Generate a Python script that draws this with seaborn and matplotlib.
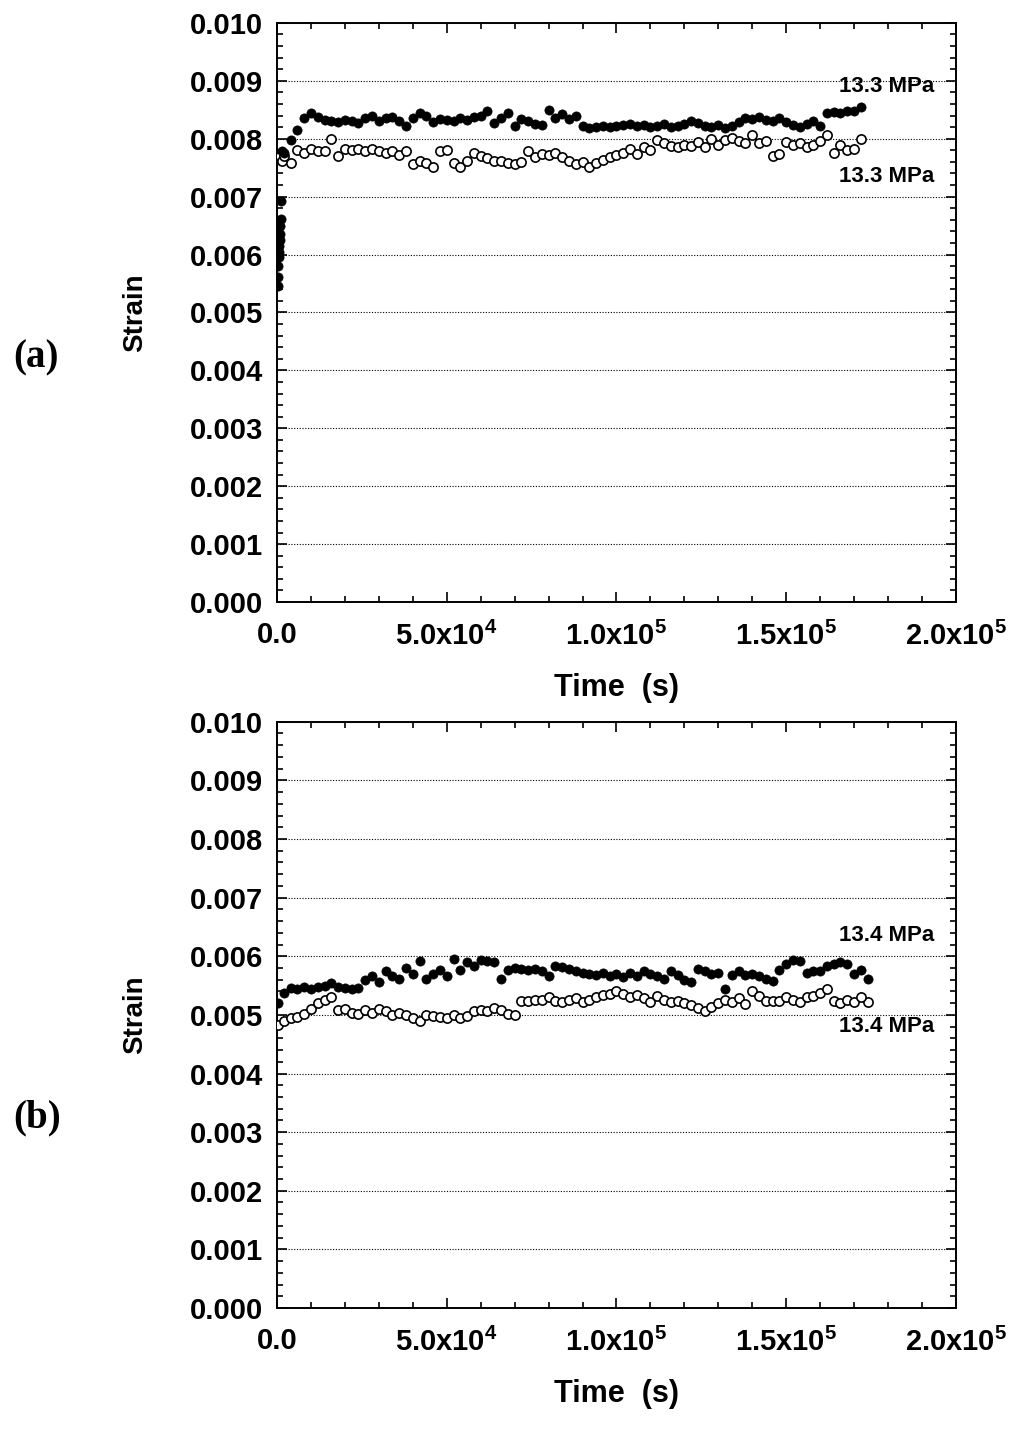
import numpy as np
import pandas as pd
import seaborn as sns
import matplotlib
matplotlib.use("Agg")
import matplotlib.pyplot as plt
from matplotlib.ticker import MultipleLocator, FixedLocator

sns.set_theme(style="ticks")
plt.rcParams['font.family'] = ['Liberation Sans', 'DejaVu Sans']
plt.rcParams['font.weight'] = 'bold'
plt.rcParams['mathtext.fontset'] = 'custom'
plt.rcParams['mathtext.bf'] = 'Liberation Sans:bold'
plt.rcParams['mathtext.rm'] = 'Liberation Sans:bold'
plt.rcParams['mathtext.default'] = 'bf'
plt.rcParams['text.color'] = 'black'
plt.rcParams['axes.labelcolor'] = 'black'
plt.rcParams['xtick.color'] = 'black'
plt.rcParams['ytick.color'] = 'black'

# time grid in ks (kiloseconds)
t_grid = [2, 4, 6, 8, 10, 12, 14, 16, 18, 20, 22, 24, 26, 28, 30, 32, 34, 36, 38, 40,
          42, 44, 46, 48, 50, 52, 54, 56, 58, 60, 62, 64, 66, 68, 70, 72, 74, 76, 78, 80,
          82, 84, 86, 88, 90, 92, 94, 96, 98, 100, 102, 104, 106, 108, 110, 112, 114, 116,
          118, 120, 122, 124, 126, 128, 130, 132, 134, 136, 138, 140, 142, 144, 146, 148,
          150, 152, 154, 156, 158, 160, 162, 164, 166, 168, 170, 172]

# (a) start-up loading points (ks, strain x1e-3)
a_start_t = [0.2, 0.3, 0.4, 0.5, 0.6, 0.7, 0.8, 0.9, 1.0, 1.1, 1.2, 1.4]
a_start_v = [5.45, 5.62, 5.80, 5.95, 6.05, 6.15, 6.25, 6.35, 6.50, 6.62, 6.92, 7.78]
a_start_open_t = [1.0, 1.5]
a_start_open_v = [7.70, 7.62]

a_fill = [7.75, 7.98, 8.15, 8.36, 8.44, 8.38, 8.32, 8.30, 8.28, 8.33, 8.30, 8.27, 8.35, 8.40,
          8.30, 8.36, 8.38, 8.30, 8.22, 8.36, 8.45, 8.40, 8.28, 8.34, 8.32, 8.30, 8.36, 8.33,
          8.38, 8.40, 8.48, 8.27, 8.36, 8.44, 8.22, 8.34, 8.30, 8.26, 8.24, 8.50, 8.36, 8.42,
          8.34, 8.40, 8.22, 8.18, 8.20, 8.22, 8.20, 8.22, 8.23, 8.26, 8.22, 8.24, 8.20, 8.22,
          8.25, 8.20, 8.22, 8.26, 8.30, 8.27, 8.22, 8.20, 8.24, 8.18, 8.22, 8.28, 8.36, 8.34,
          8.38, 8.33, 8.30, 8.36, 8.28, 8.24, 8.20, 8.26, 8.30, 8.22, 8.44, 8.46, 8.44, 8.48,
          8.47, 8.55]

a_open = [7.70, 7.58, 7.80, 7.76, 7.82, 7.78, 7.79, 8.00, 7.70, 7.82, 7.80, 7.82, 7.79, 7.82,
          7.78, 7.76, 7.78, 7.72, 7.78, 7.56, 7.62, 7.58, 7.52, 7.78, 7.80, 7.58, 7.52, 7.62,
          7.76, 7.70, 7.66, 7.62, 7.62, 7.58, 7.56, 7.60, 7.78, 7.68, 7.74, 7.72, 7.76, 7.68,
          7.62, 7.56, 7.60, 7.52, 7.58, 7.64, 7.68, 7.72, 7.76, 7.82, 7.74, 7.86, 7.80, 7.98,
          7.92, 7.88, 7.86, 7.90, 7.88, 7.94, 7.86, 8.00, 7.90, 7.98, 8.02, 7.96, 7.92, 8.06,
          7.92, 7.96, 7.70, 7.74, 7.94, 7.90, 7.92, 7.86, 7.90, 7.96, 8.06, 7.76, 7.90, 7.80,
          7.82, 8.00]

# (b)
b_start_t = [0.3, 174]
b_fill_start = [5.20, 5.62]
b_open_start = [4.82, 5.22]

b_fill = [5.38, 5.46, 5.44, 5.48, 5.44, 5.48, 5.50, 5.54, 5.48, 5.46, 5.44, 5.46, 5.60, 5.66,
          5.56, 5.74, 5.66, 5.62, 5.80, 5.70, 5.92, 5.62, 5.70, 5.76, 5.66, 5.96, 5.76, 5.90,
          5.84, 5.94, 5.92, 5.90, 5.62, 5.76, 5.80, 5.78, 5.76, 5.78, 5.74, 5.66, 5.84, 5.82,
          5.78, 5.74, 5.72, 5.70, 5.68, 5.72, 5.66, 5.70, 5.64, 5.72, 5.66, 5.74, 5.70, 5.66,
          5.62, 5.74, 5.68, 5.60, 5.56, 5.78, 5.74, 5.70, 5.72, 5.44, 5.68, 5.74, 5.68, 5.70,
          5.66, 5.62, 5.58, 5.76, 5.86, 5.94, 5.92, 5.72, 5.74, 5.74, 5.84, 5.86, 5.90, 5.86,
          5.70, 5.76]

b_open = [4.90, 4.94, 4.96, 5.02, 5.10, 5.20, 5.26, 5.30, 5.08, 5.10, 5.04, 5.02, 5.08, 5.04,
          5.10, 5.06, 5.00, 5.04, 5.00, 4.94, 4.90, 5.00, 4.98, 4.96, 4.94, 5.00, 4.94, 4.98,
          5.06, 5.08, 5.06, 5.12, 5.08, 5.02, 5.00, 5.24, 5.24, 5.26, 5.26, 5.30, 5.24, 5.22,
          5.26, 5.28, 5.22, 5.26, 5.30, 5.34, 5.36, 5.40, 5.36, 5.30, 5.34, 5.28, 5.22, 5.32,
          5.26, 5.22, 5.24, 5.20, 5.16, 5.12, 5.06, 5.14, 5.20, 5.26, 5.22, 5.28, 5.18, 5.40,
          5.32, 5.24, 5.24, 5.24, 5.30, 5.26, 5.22, 5.30, 5.32, 5.38, 5.44, 5.24, 5.20, 5.26,
          5.22, 5.30]

x_ticks = [0, 50000, 100000, 150000, 200000]
x_ticklabels = ['0.0', '5.0x10$^4$', '1.0x10$^5$', '1.5x10$^5$', '2.0x10$^5$']
y_ticks = [0.000, 0.001, 0.002, 0.003, 0.004, 0.005, 0.006, 0.007, 0.008, 0.009, 0.010]


def to_df(t_ks, v):
    return pd.DataFrame({'time': np.array(t_ks) * 1000.0, 'strain': np.array(v) * 1e-3})


fig = plt.figure(figsize=(10.24, 14.3), dpi=100)
ax_a = fig.add_axes([0.2705, 0.579, 0.663, 0.405])
ax_b = fig.add_axes([0.2705, 0.0853, 0.663, 0.41])

panels = [
    (ax_a, [to_df(a_start_t, a_start_v), to_df(t_grid, a_fill)],
     [to_df(a_start_open_t, a_start_open_v), to_df(t_grid, a_open)],
     '13.3 MPa', 0.00890, 0.00734, '(a)', 0.75),
    (ax_b, [to_df(b_start_t, b_fill_start), to_df(t_grid, b_fill)],
     [to_df(b_start_t, b_open_start), to_df(t_grid, b_open)],
     '13.4 MPa', 0.00635, 0.00480, '(b)', 0.218),
]

for ax, fills, opens, label, y_up, y_low, tag, tag_y in panels:
    for d in opens:
        sns.scatterplot(data=d, x='time', y='strain', ax=ax, s=44, color='white',
                        edgecolor='black', linewidth=1.2, zorder=3)
    for d in fills:
        sns.scatterplot(data=d, x='time', y='strain', ax=ax, s=44, color='black',
                        edgecolor='black', linewidth=0.5, zorder=4)
    ax.set_xlim(0, 200000)
    ax.set_ylim(0, 0.010)
    ax.xaxis.set_major_locator(FixedLocator(x_ticks))
    ax.xaxis.set_minor_locator(MultipleLocator(10000))
    ax.yaxis.set_major_locator(FixedLocator(y_ticks))
    ax.yaxis.set_minor_locator(MultipleLocator(0.0002))
    ax.set_xticklabels(x_ticklabels, fontsize=21, fontweight='bold')
    ax.set_yticklabels(['%.3f' % v for v in y_ticks], fontsize=21, fontweight='bold')
    ax.tick_params(which='both', direction='in', top=True, right=True, width=1.2)
    ax.tick_params(which='major', length=7)
    ax.tick_params(which='minor', length=4)
    ax.tick_params(axis='x', which='major', pad=14)
    ax.tick_params(axis='y', which='major', pad=10)
    ax.yaxis.grid(True, linestyle=(0, (1, 1.5)), color='black', linewidth=0.8)
    for sp in ax.spines.values():
        sp.set_linewidth(1.4)
        sp.set_color('black')
    ax.set_xlabel('Time  (s)', fontsize=22, fontweight='bold', labelpad=16)
    ax.set_ylabel('Strain', fontsize=20, fontweight='bold', labelpad=30)
    ax.text(193500, y_up, label, ha='right', va='center', fontsize=16, fontweight='bold')
    ax.text(193500, y_low, label, ha='right', va='center', fontsize=16, fontweight='bold')
    fig.text(0.013, tag_y, tag, fontsize=28, fontweight='bold',
             family=['Liberation Serif', 'DejaVu Serif'], va='center', ha='left')

fig.savefig('out.png', dpi=100, facecolor='white')
